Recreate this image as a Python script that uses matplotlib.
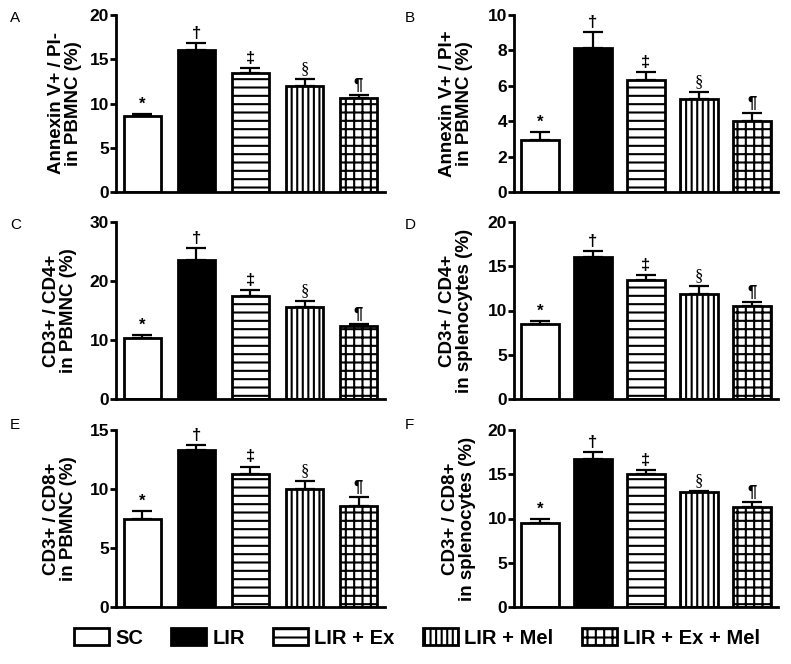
import matplotlib
matplotlib.use("Agg")
import matplotlib.pyplot as plt
from matplotlib.patches import Patch

plt.rcParams['font.family'] = ['Liberation Sans', 'DejaVu Sans']
plt.rcParams['hatch.linewidth'] = 1.5

groups = ["SC", "LIR", "LIR + Ex", "LIR + Mel", "LIR + Ex + Mel"]
hatches = ["", "", "--", "|||", "++"]
colors = ["white", "black", "white", "white", "white"]
marks = ["*", "\u2020", "\u2021", "\u00a7", "\u00b6"]

# means and (upper) SEM for each panel
a_mean = [8.55, 16.1, 13.5, 12.0, 10.6]
a_err = [0.3, 0.7, 0.5, 0.8, 0.35]
b_mean = [2.96, 8.15, 6.35, 5.25, 4.0]
b_err = [0.42, 0.9, 0.42, 0.38, 0.47]
c_mean = [10.4, 23.5, 17.5, 15.6, 12.3]
c_err = [0.5, 2.1, 1.0, 1.0, 0.45]
d_mean = [8.5, 16.0, 13.4, 11.9, 10.55]
d_err = [0.28, 0.7, 0.6, 0.85, 0.4]
e_mean = [7.44, 13.3, 11.3, 9.96, 8.55]
e_err = [0.7, 0.43, 0.6, 0.7, 0.73]
f_mean = [9.5, 16.7, 15.0, 13.05, 11.3]
f_err = [0.45, 0.8, 0.45, 0.08, 0.6]

panels = [
    ("A", a_mean, a_err, 20, 5, "Annexin V+ / PI-\nin PBMNC (%)"),
    ("B", b_mean, b_err, 10, 2, "Annexin V+ / PI+\nin PBMNC (%)"),
    ("C", c_mean, c_err, 30, 10, "CD3+ / CD4+\nin PBMNC (%)"),
    ("D", d_mean, d_err, 20, 5, "CD3+ / CD4+\nin splenocytes (%)"),
    ("E", e_mean, e_err, 15, 5, "CD3+ / CD8+\nin PBMNC (%)"),
    ("F", f_mean, f_err, 20, 5, "CD3+ / CD8+\nin splenocytes (%)"),
]

W, H = 791, 664
fig = plt.figure(figsize=(W / 100, H / 100), dpi=100)

lefts = [116, 514]
widths = [269, 264]
tops = [15, 222, 430]
bottoms = [192, 399, 607]
label_x = [[-0.19, -0.22], [-0.21, -0.22], [-0.21, -0.21]]
letter_y = [18, 225, 425]

for i, (letter, mean, err, ymax, step, ylab) in enumerate(panels):
    r, c = divmod(i, 2)
    ax = fig.add_axes([lefts[c] / W, 1 - bottoms[r] / H,
                       widths[c] / W, (bottoms[r] - tops[r]) / H])
    x = list(range(len(groups)))
    ax.bar(x, mean, width=0.7, color=colors, edgecolor="black",
           linewidth=2.0, hatch=hatches, zorder=2)
    ax.errorbar(x, mean, yerr=[[0] * 5, err], fmt="none", ecolor="black",
                elinewidth=1.6, capsize=7, capthick=1.6, zorder=1)
    for xi, m, e, s in zip(x, mean, err, marks):
        fam = ["Liberation Serif"] if s == "\u00a7" else ["Liberation Sans", "DejaVu Sans"]
        ax.annotate(s, (xi, m + e), xytext=(0, 1.5), textcoords="offset points",
                    ha="center", va="bottom", fontsize=12, family=fam,
                    fontweight="normal" if s == "\u00a7" else "bold")
    ax.set_xlim(-0.49, 4.49)
    ax.set_ylim(0, ymax)
    ax.set_yticks(range(0, ymax + 1, step))
    ax.set_xticks([])
    for side in ("top", "right"):
        ax.spines[side].set_visible(False)
    for side in ("left", "bottom"):
        ax.spines[side].set_linewidth(2.0)
    ax.tick_params(axis="y", length=4, width=2.0, labelsize=12.5, pad=1)
    for t in ax.get_yticklabels():
        t.set_fontweight("bold")
    ax.text(label_x[r][c], 0.5, ylab, transform=ax.transAxes, rotation=90,
            ha="center", va="center", multialignment="center",
            fontsize=13.5, fontweight="bold", linespacing=1.0)
    fig.text((10 if c == 0 else 405) / W, 1 - letter_y[r] / H, letter,
             fontsize=11, ha="left", va="center")

handles = [Patch(facecolor=col, edgecolor="black", hatch=h, linewidth=2.0)
           for col, h in zip(colors, hatches)]
fig.legend(handles, groups, loc="center", bbox_to_anchor=(0.527, 1 - 638 / H),
           ncol=5, frameon=False, handlelength=1.75, handleheight=0.9,
           handletextpad=0.3, columnspacing=1.4,
           prop={"size": 14.5, "weight": "bold"})

fig.savefig("out.png", dpi=100, facecolor="white")
